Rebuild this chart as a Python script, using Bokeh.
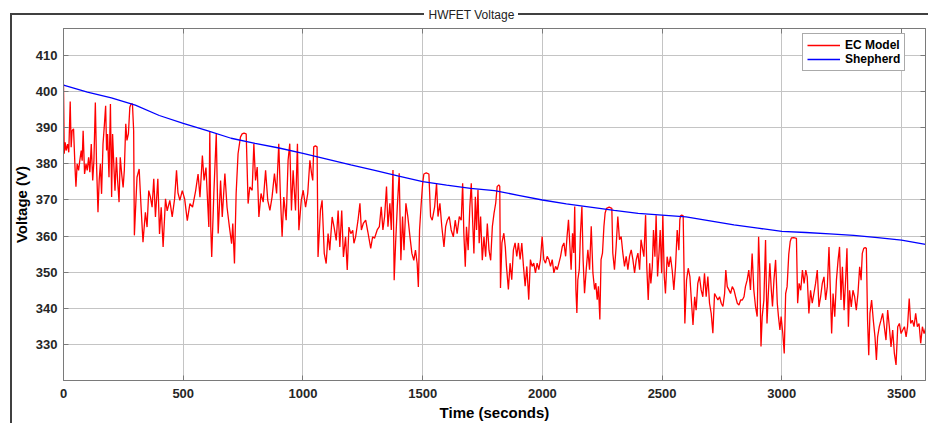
from bokeh.plotting import figure
from bokeh.models import (Legend, LegendItem, FixedTicker, Range1d, InlineStyleSheet,
                          LinearAxis, CustomJSTickFormatter)
from bokeh.embed import file_html
from bokeh.resources import INLINE

# ---------------- data ----------------
x_ticks = [0, 500, 1000, 1500, 2000, 2500, 3000, 3500]
y_ticks = [330, 340, 350, 360, 370, 380, 390, 400, 410]

# Shepherd model voltage, every 100 s
shep_time = list(range(0, 3700, 100))
shep_volt = [401.8, 399.9, 398.3, 396.3, 393.4, 391.2, 389.2, 387.1, 385.7, 384.4,
             382.9, 381.3, 379.7, 378.2, 376.6, 375.1, 374.1, 373.2, 372.6, 371.3,
             370.0, 368.9, 368.0, 367.1, 366.3, 365.8, 365.3, 364.2, 363.1, 362.2,
             361.3, 361.0, 360.6, 360.2, 359.6, 358.9, 357.7]

# EC model voltage (read in pieces)
ec_t_a = [0, 3, 7, 11, 17, 22, 28, 32, 36, 42, 48, 52, 57, 63, 68, 74, 78, 82, 88, 94,
          99, 105, 110, 116, 122, 127, 133, 138, 144, 149, 154, 159, 165, 170, 176, 180,
          184, 190, 196, 201, 205, 210, 215, 221, 226, 232, 237, 243, 249, 254, 260, 265,
          271, 277, 282, 288, 293, 296]
ec_v_a = [402.1, 382.8, 386, 383.7, 385.5, 383.2, 397.3, 384.6, 389.2, 389.7, 379.1, 373.7,
          380, 378.2, 380.9, 383.7, 380.9, 389.2, 377.2, 380, 378.2, 381.8, 377.7, 385.5,
          375.4, 380.9, 397, 380, 366.6, 375.4, 380, 371.7, 385.5, 390.1, 396.1, 383.7,
          388.3, 376.3, 396.6, 370.8, 388.3, 380, 372.6, 381.8, 375.4, 369.4, 381.8, 377.2,
          373.5, 378.2, 391.1, 386.5, 388.3, 395.7, 396.6, 396.6, 389.2, 360.2]

ec_t_b = [307, 316, 324, 332, 342, 349, 356, 363, 370, 377, 384, 394, 401, 408, 416, 426,
          433, 444, 454, 464, 472, 478, 486, 496, 506, 517, 528, 539, 552, 562, 570, 580,
          587, 595, 603, 607]
ec_v_b = [376.3, 378.6, 368, 358.3, 366.6, 362.5, 372.6, 370.8, 368, 375.9, 365.3, 375.9,
          360.6, 368, 357, 370.3, 367, 369.9, 365.3, 370.3, 378.2, 372, 369.9, 372.6, 370.3,
          364.3, 369, 368, 372.6, 377.2, 370.8, 382.3, 375.4, 379, 368, 362.5]

ec_t_c = [611, 615, 619, 628, 638, 646, 656, 663, 674, 683, 693, 702, 707, 714, 721, 729,
          739, 746, 754, 763, 771, 778, 788, 795, 802, 809, 816, 825, 834, 844, 853, 862,
          871, 881, 890, 899, 906, 913, 920, 930, 938, 945, 952, 959, 969, 977, 983, 993,
          1001, 1011, 1020, 1029, 1036, 1041, 1045, 1052, 1059, 1063, 1073, 1080, 1089,
          1097, 1105, 1112, 1122, 1130, 1139, 1147, 1154, 1162, 1169, 1178, 1185, 1192,
          1200, 1208]
ec_v_c = [389, 362.5, 354.2, 372, 388.3, 360.7, 375.4, 365.3, 377.3, 368, 362.5, 357.9,
          363.5, 352.4, 371.8, 382.8, 387.4, 388.3, 388.5, 388.3, 369, 373.6, 372.7, 385.6,
          375.4, 379.1, 365.3, 371.8, 369.4, 378.2, 369.9, 367.1, 370.8, 377.3, 371.8,
          385.6, 370.8, 359.8, 370.8, 364.4, 381, 385.6, 367.1, 378.2, 367.1, 385.6, 361.6,
          369.9, 372.7, 368, 371.8, 381, 377.3, 375.4, 384.7, 385, 384.7, 354.2, 367.1,
          369.9, 355.2, 352.4, 360.7, 356.1, 365.3, 362.5, 358.8, 367.1, 357, 367.1, 354.2,
          359.8, 350.6, 362.5, 360.7, 361.6]

ec_t_d = [1213, 1220, 1230, 1238, 1244, 1252, 1262, 1271, 1283, 1291, 1299, 1310, 1319,
          1327, 1334, 1341, 1349, 1355, 1363, 1369, 1376, 1381, 1387, 1394, 1402, 1409,
          1416, 1422, 1430, 1438, 1447, 1455, 1463, 1470, 1477, 1482, 1487, 1494, 1500,
          1505, 1515, 1526, 1533, 1540, 1550, 1558, 1564, 1572, 1580, 1589, 1596, 1603,
          1611, 1619, 1628, 1636, 1644, 1653, 1661, 1667, 1672, 1678, 1683, 1690, 1697,
          1703, 1708, 1714, 1720, 1725, 1731, 1736, 1742, 1749, 1756, 1763, 1770, 1777,
          1784, 1791, 1798, 1805, 1811, 1818]
ec_v_d = [358, 359.8, 364.4, 369.1, 361.7, 363.5, 364.4, 361.2, 356.6, 359.8, 359.4, 361.7,
          362.6, 368.1, 361.7, 365.4, 373.7, 362.6, 369.1, 361.7, 378.3, 347.8, 358, 368.1,
          377.4, 353.3, 365.4, 356.1, 369.1, 365.4, 359.8, 355.2, 353.3, 356.1, 352.4,
          345.9, 361.7, 369.1, 374.6, 377.2, 377.5, 377.2, 365.4, 364.4, 368.1, 374.6,
          365.4, 369.1, 362.6, 357, 362.6, 364.4, 365.4, 361.7, 359.8, 364.4, 360.7, 365.4,
          364.4, 374.6, 360.7, 351.5, 362.6, 356.1, 368.1, 374.6, 365.4, 355.2, 370.9,
          361.7, 372.8, 358, 365.4, 353.3, 359.8, 354.3, 363.5, 356.1, 353.3, 362.6, 366.3,
          369.1, 373.7, 374.2]

ec_t_e = [1822, 1825, 1831, 1839, 1845, 1850, 1858, 1865, 1872, 1879, 1886, 1893, 1900,
          1907, 1914, 1921, 1928, 1935, 1943, 1950, 1957, 1964, 1971, 1978, 1985, 1992,
          1999, 2006, 2013, 2020, 2027, 2034, 2041, 2048, 2055, 2062, 2069, 2076, 2083,
          2090, 2097, 2103, 2109, 2115, 2120, 2126, 2131, 2135, 2140, 2144, 2148, 2154,
          2159, 2165, 2170, 2176, 2183, 2190, 2197, 2204, 2211, 2218, 2223, 2229, 2234,
          2240, 2245, 2251, 2257, 2262, 2268, 2279, 2290, 2294, 2301, 2308, 2315, 2322,
          2329, 2336, 2343, 2350, 2357, 2364, 2371, 2378, 2385, 2392, 2399, 2406, 2412,
          2419]
ec_v_e = [373.8, 345.6, 358.1, 360.8, 357.1, 351.6, 345.2, 352.5, 347.9, 356.2, 358.1,
          354.4, 358.1, 353.5, 358.1, 351.6, 346.1, 351.6, 342.4, 353.5, 351.6, 352.5,
          349.8, 352.5, 350.7, 353.5, 359.9, 353.5, 352.5, 354.4, 353.5, 351.6, 353.5,
          349.8, 351.6, 350.7, 352.5, 354.4, 357.1, 358.1, 354.4, 359.9, 364.5, 357.1,
          350.7, 360.8, 355.3, 368.2, 345.2, 338.7, 347.9, 350.7, 360.8, 368.2, 353.5,
          344.2, 350.7, 356.2, 350.7, 362.7, 349.8, 345.2, 347, 342.4, 346.1, 336.9, 353.5,
          355.3, 362.7, 366.4, 367.7, 368, 367.7, 355.3, 350.7, 357.1, 365.4, 359, 359.9,
          355.3, 351.6, 354.4, 350.7, 354.4, 356.2, 353.5, 349.8, 353.5, 355.3, 350.7, 359,
          356.2]

ec_t_f = [2424, 2431, 2436, 2442, 2448, 2453, 2459, 2464, 2470, 2475, 2481, 2487, 2492,
          2498, 2503, 2509, 2514, 2521, 2528, 2535, 2542, 2549, 2556, 2563, 2570, 2574,
          2577, 2582, 2588, 2595, 2602, 2609, 2616, 2623, 2629, 2636, 2642, 2649, 2656,
          2663, 2670, 2677, 2684, 2691, 2698, 2705, 2712, 2719, 2726, 2733, 2740, 2747,
          2754, 2761, 2766, 2772, 2779, 2786, 2793, 2800, 2807, 2814, 2821, 2828, 2835,
          2842, 2848, 2855, 2862, 2869, 2876, 2883, 2890, 2897, 2903, 2908, 2913, 2918,
          2925, 2932, 2938, 2943, 2950, 2956, 2961, 2967, 2974, 2981, 2986, 2992, 2997,
          3004, 3010, 3016, 3022]
ec_v_f = [354.3, 365.8, 351.5, 342.3, 352.5, 346.9, 351.5, 361.7, 354.3, 365.8, 348.8,
          355.2, 361.7, 349.7, 365.8, 348.8, 344.1, 354.3, 351.5, 354.3, 350.6, 345.1,
          351.5, 361.7, 356.1, 364.5, 365.6, 365.8, 365.6, 335.8, 347.8, 351.1, 348.8,
          341.4, 335.4, 343.2, 339.5, 346.9, 348.8, 345.1, 343.2, 349.7, 343.2, 348.8,
          341.4, 338.6, 333.1, 344.1, 343.2, 342.3, 343.2, 341.4, 340.5, 344.1, 350.6, 346,
          345.1, 344.1, 346, 345.1, 343.2, 341.4, 340.9, 342.3, 342.3, 343.2, 346, 347.8,
          350.6, 345.1, 355.2, 345.1, 340.5, 337.7, 359.8, 349.7, 329.4, 337.7, 342.3,
          358.9, 335.8, 343.2, 352.5, 345.1, 340.5, 347.8, 353.4, 341.4, 337.7, 334, 337.7,
          333.1, 327.5, 344.1, 346]

ec_t_g = [3029, 3035, 3040, 3050, 3061, 3066, 3072, 3079, 3086, 3093, 3100, 3106, 3113,
          3120, 3127, 3134, 3141, 3148, 3155, 3162, 3169, 3176, 3183, 3190, 3197, 3203,
          3208, 3214, 3221, 3228, 3235, 3241, 3247, 3253, 3260, 3267, 3272, 3278, 3283,
          3290, 3297, 3304, 3311, 3318, 3325, 3331, 3336, 3342, 3348, 3353, 3358, 3363,
          3368, 3375, 3382, 3389, 3395, 3400, 3407, 3414, 3421, 3428, 3435, 3442, 3449,
          3456, 3463, 3470, 3477, 3484, 3491, 3498, 3505, 3512, 3519, 3525, 3532, 3538,
          3545, 3552, 3559, 3566, 3573, 3580, 3587, 3594, 3600]
ec_v_g = [355, 358.5, 359.5, 359.6, 359.4, 341.4, 346.9, 345, 350.6, 346.9, 350.6, 348.7,
          338.6, 345, 341.4, 344.1, 346.9, 350.6, 340.4, 343.2, 346.9, 348.7, 342.3, 346,
          357, 344.1, 333, 344.1, 337.7, 347.8, 353.4, 357, 342.3, 351.5, 339.5, 348.7,
          356.6, 334.9, 345, 340.4, 345, 343.2, 339.5, 344.1, 351.5, 347.8, 355.2, 356.6,
          356.8, 356.6, 336.7, 327, 338.6, 342.3, 336.7, 332.1, 325.7, 332.1, 334.9, 336.7,
          338.6, 334.9, 331.2, 339.5, 334.9, 329.3, 334, 327.5, 324.3, 334.9, 335.8, 333,
          334, 334.9, 332.1, 334.9, 342.7, 335.8, 336.7, 334.9, 338.6, 334.9, 335.8, 330.3,
          334.9, 333, 334.4]

ec_time = ec_t_a + ec_t_b + ec_t_c + ec_t_d + ec_t_e + ec_t_f + ec_t_g
ec_volt = ec_v_a + ec_v_b + ec_v_c + ec_v_d + ec_v_e + ec_v_f + ec_v_g
assert len(ec_time) == len(ec_volt), (len(ec_time), len(ec_volt))

# ---------------- figure ----------------
FONT = "Liberation Sans"
FRAME = "#404040"
AXIS = "#7a7a7a"

panel_css = InlineStyleSheet(css=f"""
:host {{ position: relative; }}
:host::before {{
  content: ""; position: absolute; left: 10px; top: 13px;
  width: 412px; height: 408px;
  border-left: 2px solid {FRAME}; border-top: 2px solid {FRAME};
  z-index: 5; pointer-events: none;
}}
:host::after {{
  content: ""; position: absolute; left: 518px; top: 13px;
  width: 410px; height: 0px;
  border-top: 2px solid {FRAME};
  z-index: 5; pointer-events: none;
}}
""")

p = figure(width=928, height=423, output_backend="svg", toolbar_location=None,
           x_range=Range1d(0, 3600), y_range=Range1d(320, 417.5),
           min_border_left=63, min_border_right=3, min_border_top=28,
           min_border_bottom=43, background_fill_color="white",
           border_fill_color="white", outline_line_color=AXIS,
           stylesheets=[panel_css])

p.title.text = "HWFET Voltage"
p.title.align = "left"
p.title.offset = 365
p.title.vertical_align = "middle"
p.title.standoff = 12
p.title.text_font = FONT
p.title.text_font_size = "12px"
p.title.text_font_style = "normal"
p.title.text_color = "#222222"

r_ec = p.line(ec_time, ec_volt, line_color="#ff0000", line_width=1.3)
r_sh = p.line(shep_time, shep_volt, line_color="#0000ff", line_width=1.3)

for ax in (p.xaxis[0], p.yaxis[0]):
    ax.major_tick_in = 5
    ax.major_tick_out = 0
    ax.minor_tick_line_color = None
    ax.axis_line_color = AXIS
    ax.major_tick_line_color = AXIS
    ax.major_label_text_font = FONT
    ax.major_label_text_font_style = "bold"
    ax.major_label_text_font_size = "13px"
    ax.major_label_text_color = "#262626"
    ax.axis_label_text_font = FONT
    ax.axis_label_text_font_style = "bold"
    ax.axis_label_text_font_size = "15px"
    ax.axis_label_text_color = "#000000"

p.xaxis.ticker = FixedTicker(ticks=x_ticks)
p.yaxis.ticker = FixedTicker(ticks=y_ticks)
p.xaxis.axis_label = "Time (seconds)"
p.yaxis.axis_label = "Voltage (V)"
p.xaxis.major_label_standoff = 8
p.xaxis.axis_label_standoff = 3
p.yaxis.major_label_standoff = 6
p.yaxis.axis_label_standoff = 3

# box ticks on top and right (no labels), as in the MATLAB axes box
blank = CustomJSTickFormatter(code="return ''")
for loc, ticks in (("right", y_ticks), ("above", x_ticks)):
    bax = LinearAxis(ticker=FixedTicker(ticks=ticks), formatter=blank,
                     major_tick_in=5, major_tick_out=0, minor_tick_line_color=None,
                     axis_line_color=AXIS, major_tick_line_color=AXIS,
                     major_label_standoff=0, major_label_text_font_size="1px")
    p.add_layout(bax, loc)

p.grid.grid_line_color = "#c4c4c4"
p.grid.grid_line_width = 1

legend = Legend(items=[LegendItem(label="EC Model", renderers=[r_ec]),
                       LegendItem(label="Shepherd", renderers=[r_sh])],
                location=(739, 309))
legend.label_text_font = FONT
legend.label_text_font_style = "bold"
legend.label_text_font_size = "12px"
legend.label_text_color = "#000000"
legend.glyph_width = 33
legend.glyph_height = 14
legend.label_height = 14
legend.label_standoff = 5
legend.spacing = 0
legend.padding = 4
legend.margin = 0
legend.border_line_color = "#555555"
legend.border_line_width = 1
legend.background_fill_color = "white"
legend.background_fill_alpha = 1
p.add_layout(legend, "center")

open("out.html", "w").write(file_html(p, INLINE))
